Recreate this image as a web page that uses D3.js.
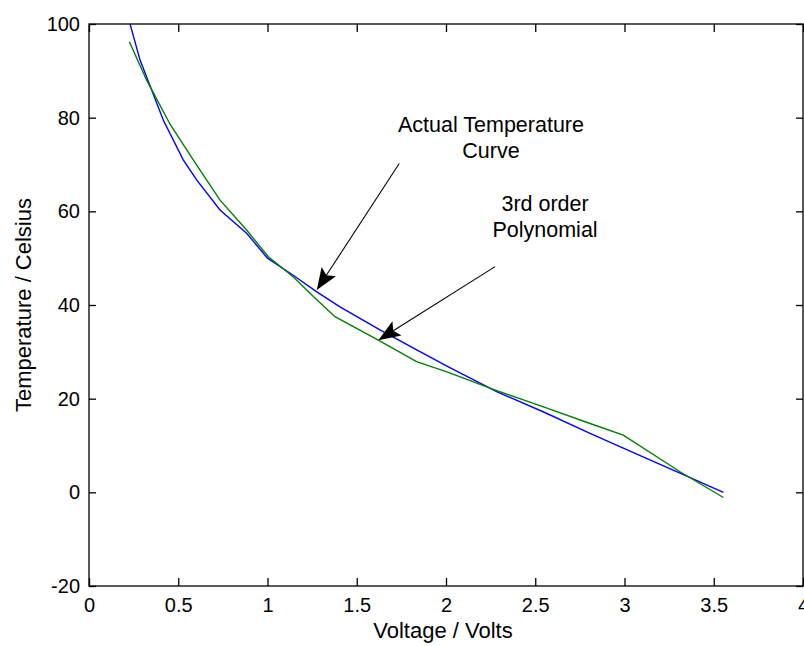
<!DOCTYPE html>
<html>
<head>
<meta charset="utf-8">
<script src="https://cdn.jsdelivr.net/npm/d3@7"></script>
<style>
  html, body { margin: 0; padding: 0; background: #fff; }
  svg { display: block; }
  text { font-family: Arial, "Liberation Sans", sans-serif; fill: #000; }
</style>
</head>
<body>
<svg id="chart" width="804" height="646"></svg>
<script>
// ---- data ----
const actualVoltage = [0.23, 0.286, 0.351, 0.416, 0.528, 0.603, 0.734, 0.883, 1.0, 1.15, 1.276, 1.406, 1.63, 1.836, 2.013, 2.284, 2.55, 2.807, 3.05, 3.311, 3.554];
const actualTemp    = [100, 92.3, 85.9, 79.5, 71.0, 66.7, 60.3, 55.3, 50.0, 46.2, 42.8, 39.6, 34.7, 30.4, 26.8, 21.5, 17.1, 12.6, 8.5, 4.1, 0.0];

const polyVoltage = [0.226, 0.323, 0.454, 0.584, 0.734, 0.883, 1.005, 1.145, 1.257, 1.378, 1.621, 1.835, 2.013, 2.265, 2.55, 2.807, 2.993, 3.311, 3.554];
const polyTemp    = [96.2, 88.0, 78.6, 71.0, 62.4, 56.0, 50.3, 46.0, 41.8, 37.5, 32.5, 27.9, 25.6, 22.0, 18.2, 14.7, 12.2, 4.4, -1.1];

const xTicks = [0, 0.5, 1, 1.5, 2, 2.5, 3, 3.5, 4];
const yTicks = [-20, 0, 20, 40, 60, 80, 100];
const xDomain = [0, 4];
const yDomain = [-20, 100];

const xLabel = "Voltage / Volts";
const yLabel = "Temperature / Celsius";

// annotations (data coordinates)
const annotationTexts = [
  { lines: ["Actual Temperature", "Curve"], v: 2.252, t: 77.0 },
  { lines: ["3rd order", "Polynomial"], v: 2.555, t: 60.1 }
];
const arrowTails = [[1.738, 70.2], [2.275, 48.2]];
const arrowTips  = [[1.276, 43.2], [1.621, 32.5]];

// ---- layout ----
const svg = d3.select("#chart");
const mLeft = 89, mRight = 803, mTop = 24, mBottom = 586;

const x = d3.scaleLinear().domain(xDomain).range([mLeft, mRight]);
const y = d3.scaleLinear().domain(yDomain).range([mBottom, mTop]);

// box
svg.append("rect")
  .attr("x", mLeft).attr("y", mTop)
  .attr("width", mRight - mLeft).attr("height", mBottom - mTop)
  .attr("fill", "none").attr("stroke", "#000").attr("stroke-width", 1.3);

// axes with inward ticks
const fmt = d => String(d);
const xAxisB = d3.axisBottom(x).tickValues(xTicks).tickSize(-8).tickPadding(12).tickFormat(fmt);
const xAxisT = d3.axisTop(x).tickValues(xTicks).tickSize(-8).tickFormat("");
const yAxisL = d3.axisLeft(y).tickValues(yTicks).tickSize(-7).tickPadding(9).tickFormat(fmt);
const yAxisR = d3.axisRight(y).tickValues(yTicks).tickSize(-7).tickFormat("");

function styleAxis(g) {
  g.select(".domain").remove();
  g.selectAll(".tick line").attr("stroke", "#000").attr("stroke-width", 1.3);
  g.selectAll(".tick text").attr("font-size", 20).attr("fill", "#000")
    .attr("font-family", 'Arial, "Liberation Sans", sans-serif');
}
svg.append("g").attr("transform", `translate(0,${mBottom})`).call(xAxisB).call(styleAxis);
svg.append("g").attr("transform", `translate(0,${mTop})`).call(xAxisT).call(styleAxis);
svg.append("g").attr("transform", `translate(${mLeft},0)`).call(yAxisL).call(styleAxis);
svg.append("g").attr("transform", `translate(${mRight},0)`).call(yAxisR).call(styleAxis);

// axis labels
svg.append("text")
  .attr("x", 443).attr("y", 638)
  .attr("text-anchor", "middle").attr("font-size", 22)
  .text(xLabel);
svg.append("text")
  .attr("transform", `translate(31,${(mTop + mBottom) / 2}) rotate(-90)`)
  .attr("text-anchor", "middle").attr("font-size", 22)
  .text(yLabel);

// lines
const line = d3.line().x(d => x(d[0])).y(d => y(d[1]));
const actual = actualVoltage.map((v, i) => [v, actualTemp[i]]);
const poly = polyVoltage.map((v, i) => [v, polyTemp[i]]);

svg.append("path").datum(actual)
  .attr("d", line).attr("fill", "none")
  .attr("stroke", "#0000ff").attr("stroke-width", 1.4);
svg.append("path").datum(poly)
  .attr("d", line).attr("fill", "none")
  .attr("stroke", "#008000").attr("stroke-width", 1.4);

// annotation texts
annotationTexts.forEach(a => {
  const t = svg.append("text")
    .attr("x", x(a.v)).attr("y", y(a.t))
    .attr("text-anchor", "middle").attr("font-size", 21.5);
  a.lines.forEach((ln, i) => {
    t.append("tspan").attr("x", x(a.v)).attr("dy", i === 0 ? 0 : 26).text(ln);
  });
});

// arrows
const headL = 22, headW = 8.5;
arrowTails.forEach((tail, i) => {
  const tip = arrowTips[i];
  const x0 = x(tail[0]), y0 = y(tail[1]);
  const x1 = x(tip[0]), y1 = y(tip[1]);
  const dx = x1 - x0, dy = y1 - y0;
  const len = Math.hypot(dx, dy);
  const ux = dx / len, uy = dy / len;
  const nx = -uy, ny = ux;
  const notch = [x1 - ux * headL * 0.8, y1 - uy * headL * 0.8];
  svg.append("line")
    .attr("x1", x0).attr("y1", y0).attr("x2", notch[0]).attr("y2", notch[1])
    .attr("stroke", "#000").attr("stroke-width", 1.1);
  const p = [
    [x1, y1],
    [x1 - ux * headL + nx * headW, y1 - uy * headL + ny * headW],
    notch,
    [x1 - ux * headL - nx * headW, y1 - uy * headL - ny * headW]
  ];
  svg.append("path")
    .attr("d", "M" + p.map(q => q.join(",")).join("L") + "Z")
    .attr("fill", "#000").attr("stroke", "none");
});
</script>
</body>
</html>
